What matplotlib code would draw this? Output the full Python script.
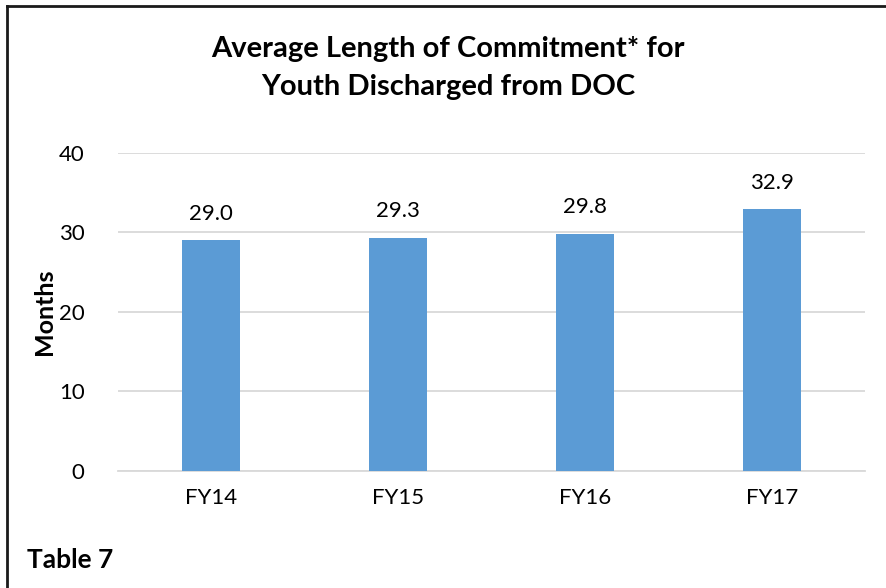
import matplotlib.pyplot as plt
from matplotlib.lines import Line2D

# =========================
# DATA
# =========================

years = ["FY14", "FY15", "FY16", "FY17"]
months = [29.0, 29.3, 29.8, 32.9]
yticks = [0, 10, 20, 30, 40]

plt.rcParams["font.family"] = ["Lato", "DejaVu Sans"]

# =========================
# FIGURE
# =========================

fig = plt.figure(figsize=(8.86, 5.88), dpi=100)
ax = fig.add_axes([0.1332, 0.199, 0.8431, 0.5408])

x = range(len(years))
bars = ax.bar(x, months, width=0.31, color="#5B9BD5", zorder=3)

for b, v in zip(bars, months):
    ax.annotate(f"{v:.1f}", (b.get_x() + b.get_width() / 2, v),
                xytext=(0, 12), textcoords="offset points",
                ha="center", va="bottom", fontsize=16, color="#000000")

ax.set_xlim(-0.5, len(years) - 0.5)
ax.set_ylim(0, 40)
ax.set_yticks(yticks)
ax.set_xticks(list(x))
ax.set_xticklabels(years)
ax.tick_params(axis="both", length=0, labelsize=16, colors="#000000")
ax.tick_params(axis="y", pad=24)
ax.tick_params(axis="x", pad=12)
ax.grid(axis="y", color="#D9D9D9", linewidth=1.3, zorder=0)
for s in ["top", "right", "left"]:
    ax.spines[s].set_visible(False)
ax.spines["bottom"].set_color("#D9D9D9")
ax.spines["bottom"].set_linewidth(1.3)

ax.set_ylabel("Months", fontsize=18, fontweight="bold", labelpad=2)

fig.text(0.506, 0.884, "Average Length of Commitment* for\nYouth Discharged from DOC",
         ha="center", va="center", fontsize=21, fontweight="bold",
         linespacing=1.55)

fig.text(0.031, 0.047, "Table 7", ha="left", va="center",
         fontsize=19, fontweight="bold")

# border (top + left only, the rest is cropped)
fig.add_artist(Line2D([0.0075, 0.0075], [0.0, 0.989], color="#1a1a1a",
                      linewidth=2, transform=fig.transFigure))
fig.add_artist(Line2D([0.0075, 1.0], [0.989, 0.989], color="#1a1a1a",
                      linewidth=2, transform=fig.transFigure))

fig.savefig("out.png", dpi=100)
